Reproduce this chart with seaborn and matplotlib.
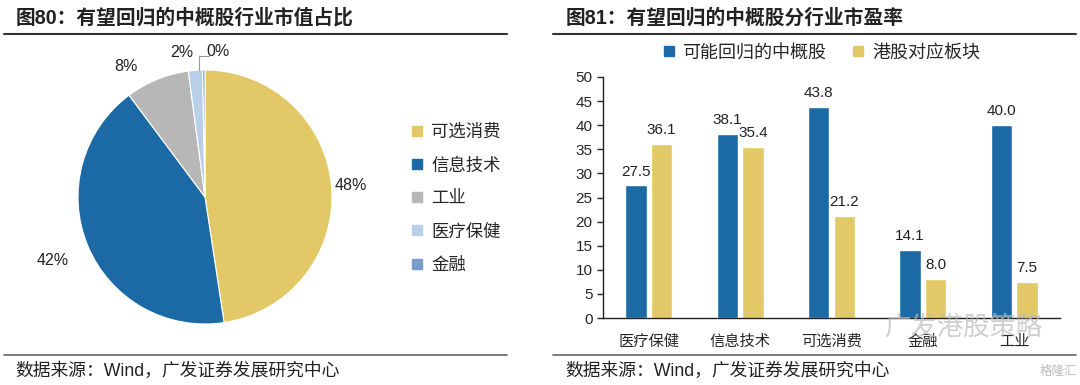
import numpy as np
import pandas as pd
import seaborn as sns
import matplotlib.pyplot as plt
from matplotlib.lines import Line2D

# data
pie_labels = ['可选消费', '信息技术', '工业', '医疗保健', '金融']
pie_values = [47.6, 42.2, 8.1, 1.8, 0.3]
pie_colors = ['#E3C867', '#1B6AA5', '#B7B7B7', '#B9CFE7', '#7A9CCB']

bar_cats = ['医疗保健', '信息技术', '可选消费', '金融', '工业']
china_pe = [27.5, 38.1, 43.8, 14.1, 40.0]
hk_pe = [36.1, 35.4, 21.2, 8.0, 7.5]
series_names = ['可能回归的中概股', '港股对应板块']
bar_colors = ['#1B6AA5', '#E3C867']

sns.set_theme(style='white')
plt.rcParams['font.family'] = ['Liberation Sans', 'Noto Sans CJK SC']
plt.rcParams['axes.unicode_minus'] = False

fig = plt.figure(figsize=(10.8, 3.85), dpi=100)
fig.patch.set_facecolor('white')

def fx(px):
    return px / 1080

def fy(py):
    return 1 - py / 385

# titles, rules and source lines
fig.text(fx(16), fy(18), '图80：有望回归的中概股行业市值占比', fontsize=14.2,
         fontweight='bold', va='center', color='#222222')
fig.text(fx(566), fy(18), '图81：有望回归的中概股分行业市盈率', fontsize=14.2,
         fontweight='bold', va='center', color='#222222')
for x0, x1 in [(4, 507), (553, 1076)]:
    fig.add_artist(Line2D([fx(x0), fx(x1)], [fy(34), fy(34)], color='#333333', lw=1.5))
    fig.add_artist(Line2D([fx(x0), fx(x1)], [fy(355), fy(355)], color='#666666', lw=1.2))
fig.text(fx(15), fy(371), '数据来源：Wind，广发证券发展研究中心', fontsize=12.8,
         va='center', color='#222222')
fig.text(fx(565), fy(371), '数据来源：Wind，广发证券发展研究中心', fontsize=12.8,
         va='center', color='#222222')

# ---- pie ----
ax1 = fig.add_axes([fx(78), fy(324), fx(254), 254 / 385])
wedges, _ = ax1.pie(pie_values, colors=pie_colors, startangle=90, counterclock=False,
                    wedgeprops=dict(edgecolor='white', linewidth=0.8))
ax1.set_xlim(-1, 1)
ax1.set_ylim(-1, 1)
ax1.set_aspect('equal')

dists = [1.15, 1.3, 1.2, 1.15, 1.15]
nudges = [0, 0, 9, 5, -5.5]
for w, v, d, n in zip(wedges, pie_values, dists, nudges):
    ang = np.deg2rad((w.theta1 + w.theta2) / 2 + n)
    ax1.text(d * np.cos(ang), d * np.sin(ang), f'{v:.0f}%', fontsize=11.5,
             ha='center', va='center', color='#222222', clip_on=False)
# leader line for the tiny slice
ang0 = np.deg2rad((wedges[-1].theta1 + wedges[-1].theta2) / 2)
ax1.plot([np.cos(ang0) - 0.04, np.cos(ang0) - 0.04, 0.03],
         [1.0, 1.11, 1.11], color='#999999', lw=0.8, clip_on=False)

handles = [Line2D([], [], marker='s', ls='', markersize=7, color=c) for c in pie_colors]
fig.legend(handles, pie_labels, loc='upper left', bbox_to_anchor=(fx(393), fy(108)),
           frameon=False, fontsize=12.5, labelspacing=1.0, handletextpad=0.3,
           handlelength=1.0)

# ---- bars ----
df = pd.DataFrame({
    '行业': bar_cats * 2,
    '市盈率': china_pe + hk_pe,
    '类型': [series_names[0]] * len(bar_cats) + [series_names[1]] * len(bar_cats),
})
ax2 = fig.add_axes([fx(603), fy(318), fx(457), (318 - 77) / 385])
sns.barplot(data=df, x='行业', y='市盈率', hue='类型', palette=bar_colors,
            saturation=1, width=0.56, gap=0.16, ax=ax2, legend=False)
for cont in ax2.containers:
    ax2.bar_label(cont, fmt='%.1f', padding=5, fontsize=11, color='#222222')

ax2.set_ylim(0, 50)
ax2.set_yticks(np.arange(0, 51, 5))
ax2.set_xlim(-0.5, 4.5)
ax2.set_xticks(np.arange(-0.5, 5, 1))
ax2.set_xticklabels([])
ax2.set_xticks(np.arange(len(bar_cats)), bar_cats, minor=True)
ax2.tick_params(axis='x', which='major', direction='out', length=6, width=1, color='#222222')
ax2.tick_params(axis='x', which='minor', length=0, labelsize=11, pad=12)
ax2.tick_params(axis='y', direction='out', length=4, width=1, color='#222222',
                labelsize=11, left=True)
ax2.set_xlabel('')
ax2.set_ylabel('')
for s in ['top', 'right']:
    ax2.spines[s].set_visible(False)
for s in ['left', 'bottom']:
    ax2.spines[s].set_color('#222222')
    ax2.spines[s].set_linewidth(1)

bhandles = [Line2D([], [], marker='s', ls='', markersize=7, color=c) for c in bar_colors]
ax2.legend(bhandles, series_names, loc='center', bbox_to_anchor=(0.475, 1.1),
           ncol=2, frameon=False, fontsize=13, handletextpad=0.3,
           handlelength=1.0, columnspacing=1.2)

# watermark
fig.text(fx(885), fy(328), '广发港股策略', fontsize=19, color='#BBBBBB', alpha=0.7,
         va='center', zorder=0)
fig.text(fx(1040), fy(372), '格隆汇', fontsize=9, color='#BBBBBB', va='center')

fig.savefig('out.png', dpi=100)
